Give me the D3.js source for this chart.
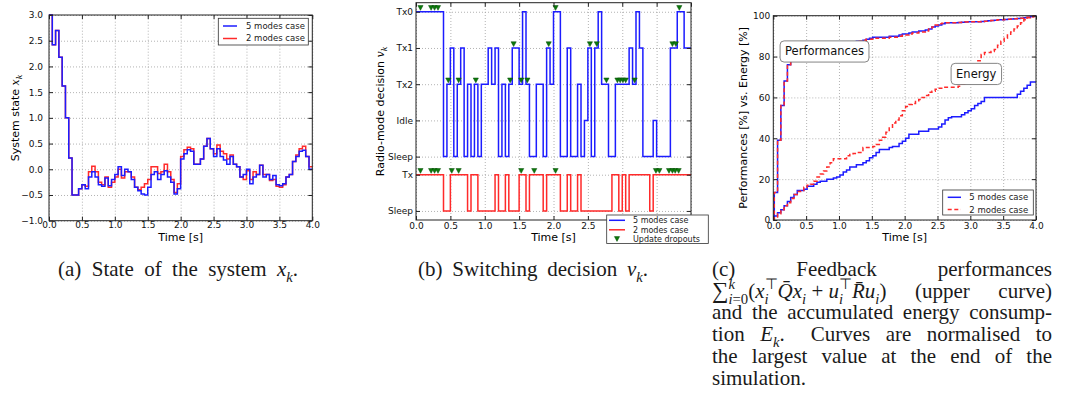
<!DOCTYPE html>
<html>
<head>
<meta charset="utf-8">
<script src="https://cdn.jsdelivr.net/npm/d3@7"></script>
<style>
  body { margin: 0; background: #fff; }
  svg text { font-family: "DejaVu Sans", sans-serif; white-space: pre; }
  .cap text { font-family: "Liberation Serif", serif; fill: #1a1a1a; }
</style>
</head>
<body>
<svg id="fig" width="1078" height="414"></svg>
<script>
// ---- data ----
var dt = 0.05;
var timeTicks = [0, 0.5, 1, 1.5, 2, 2.5, 3, 3.5, 4];

// (a) state of the system, one value per 0.05 s
var stateTicks = [-1, -0.5, 0, 0.5, 1, 1.5, 2, 2.5, 3];
var stateFive = [3.0, 2.42, 2.7, 2.18, 1.62, 1.0, 0.22, -0.5, -0.5, -0.38,
  -0.3, -0.38, -0.15, -0.05, -0.15, -0.3, -0.33, -0.17, -0.32, -0.2,
  -0.1, 0.05, -0.12, 0.0, -0.05, -0.2, -0.35, -0.42, -0.48, -0.5,
  -0.35, -0.1, -0.05, -0.2, -0.1, -0.03, -0.15, -0.25, -0.48, -0.38,
  0.2, 0.3, 0.38, 0.35, 0.1, 0.1, 0.2, 0.45, 0.6, 0.4,
  0.25, 0.4, 0.25, 0.18, 0.1, 0.25, 0.1, 0.05, -0.15, -0.1,
  0.0, -0.28, -0.15, -0.1, 0.08, -0.15, -0.1, -0.2, -0.12, -0.3,
  -0.32, -0.28, -0.15, -0.1, 0.15, 0.25, 0.35, 0.37, 0.25, 0.0];
var stateTwo = [3.0, 2.42, 2.7, 2.18, 1.62, 1.0, 0.22, -0.5, -0.5, -0.38,
  -0.3, -0.33, -0.05, 0.06, -0.05, -0.25, -0.3, -0.15, -0.35, -0.25,
  -0.15, 0.0, -0.17, -0.05, -0.05, -0.15, -0.35, -0.4, -0.35, -0.28,
  -0.2, 0.05, 0.05, -0.08, -0.05, 0.1, -0.05, -0.2, -0.45, -0.28,
  0.25, 0.38, 0.43, 0.4, 0.1, 0.1, 0.2, 0.45, 0.6, 0.4,
  0.3, 0.47, 0.35, 0.3, 0.2, 0.28, 0.1, 0.05, -0.15, -0.2,
  -0.03, -0.2, -0.05, -0.1, 0.08, -0.1, -0.1, -0.22, -0.2, -0.33,
  -0.35, -0.3, -0.15, -0.1, 0.15, 0.28, 0.4, 0.45, 0.25, 0.05];

// (b) radio-mode decision
var fiveOrder = ["Sleep", "Idle", "Tx2", "Tx1", "Tx0"];
var twoOrder = ["Sleep", "Tx"];
var modeFive = ["Tx0","Tx0","Tx0","Tx0","Tx0","Tx0","Tx0","Tx0","Sleep","Tx2",
  "Tx1","Sleep","Tx2","Tx1","Sleep","Tx2","Sleep","Tx2","Sleep","Tx2",
  "Tx2","Tx1","Tx2","Tx1","Sleep","Tx2","Sleep","Tx2","Tx1","Tx1",
  "Tx2","Tx0","Tx2","Sleep","Sleep","Tx2","Tx2","Sleep","Tx1","Tx2",
  "Tx0","Tx0","Sleep","Sleep","Tx1","Sleep","Sleep","Tx2","Sleep","Idle",
  "Tx1","Sleep","Tx1","Tx0","Tx2","Tx2","Sleep","Sleep","Tx2","Tx2",
  "Tx2","Tx2","Tx1","Tx2","Tx0","Tx1","Sleep","Sleep","Sleep","Idle",
  "Sleep","Sleep","Sleep","Sleep","Tx1","Tx1","Tx0","Tx0","Tx1","Tx1"];
var modeTwo = ["Tx","Tx","Tx","Tx","Tx","Tx","Tx","Tx","Sleep","Sleep",
  "Tx","Tx","Tx","Tx","Tx","Sleep","Tx","Tx","Sleep","Sleep",
  "Sleep","Sleep","Sleep","Tx","Sleep","Sleep","Tx","Sleep","Sleep","Sleep",
  "Tx","Tx","Sleep","Tx","Tx","Tx","Tx","Sleep","Tx","Tx",
  "Tx","Tx","Sleep","Sleep","Tx","Sleep","Sleep","Tx","Sleep","Sleep",
  "Sleep","Sleep","Sleep","Sleep","Sleep","Sleep","Sleep","Tx","Tx","Sleep",
  "Tx","Sleep","Tx","Tx","Tx","Tx","Tx","Tx","Sleep","Tx",
  "Tx","Tx","Tx","Tx","Tx","Tx","Tx","Tx","Tx","Tx"];
var modeTickNames = ["Sleep", "Tx", "Sleep", "Idle", "Tx2", "Tx1", "Tx0"];
var dropFive = [0.065, 0.22, 0.27, 0.32, 0.47, 0.62, 0.87, 1.37, 1.42, 1.53, 1.62, 1.93,
  2.03, 2.53, 2.63, 2.77, 2.93, 2.97, 3.01, 3.05, 3.18, 3.73, 3.78, 3.83];
var dropTwo = [0.065, 0.22, 0.27, 0.32, 0.52, 0.62, 1.53, 1.72, 2.03, 3.49, 3.54,
  3.68, 3.73, 3.77, 3.82];

// (c) normalised performance and energy [%]
var pctTicks = [0, 20, 40, 60, 80, 100];
var cT0 = 0.015;
var perfFive = [13.5, 39, 56, 68, 76, 80, 84, 85, 85, 85.5,
  85.5, 85.5, 86, 86, 86, 86.5, 86.5, 86.5, 86.5, 87,
  87, 87, 87, 87, 87, 87.5, 87.5, 88, 88.5, 89,
  89.5, 89.5, 89.5, 89.5, 89.5, 90, 90, 90, 90.5, 91,
  91, 91.5, 92, 92, 92.5, 92.5, 93, 93.5, 94.5, 95,
  95.5, 96, 96.5, 96.5, 96.5, 96.5, 96.7, 96.8, 96.9, 97,
  97, 97, 97.1, 97.2, 97.3, 97.5, 97.6, 97.8, 98, 98,
  98.2, 98.3, 98.4, 98.5, 98.6, 98.8, 99, 99.3, 99.6, 100];
var perfTwo = [13.5, 39, 56, 68, 76, 80, 84, 85, 85, 85.5,
  85.5, 85.5, 86, 86, 86, 86.5, 86.5, 86.5, 86.5, 87,
  87, 87, 87, 87, 87, 87.5, 87.5, 88, 88.5, 88.5,
  89, 89, 89, 89, 89, 89.5, 89.5, 89.5, 90, 90.5,
  90.5, 91, 91.5, 91.5, 92, 92, 92.5, 93.5, 94.5, 95.5,
  96, 96.3, 96.5, 96.5, 96.5, 96.5, 96.7, 96.8, 96.9, 97,
  97, 97, 97.1, 97.2, 97.3, 97.5, 97.6, 97.8, 98, 98,
  98.2, 98.3, 98.4, 98.5, 98.6, 98.8, 99, 99.3, 99.6, 100];
var energyFive = [2, 3.5, 5, 7, 9, 11, 12.5, 14.5, 14.5, 15,
  16.5, 16.5, 17.5, 18.5, 19, 19, 20, 20, 20.5, 21,
  22, 23.5, 24.5, 26, 26, 27, 27, 28, 29, 30.5,
  31.5, 33, 34.5, 34.5, 34.5, 35.5, 36, 36, 37.5, 38.5,
  40, 42, 42, 42, 43.5, 43.5, 43.5, 44.5, 44.5, 44.5,
  45.5, 47, 49, 50, 50.5, 50.5, 50.5, 51.5, 52.5, 53.5,
  54.5, 56, 57, 58, 60, 60, 60, 60, 60, 60,
  60, 60, 60, 60, 61.5, 63, 64.5, 66, 67.5, 67.5];
var energyTwo = [1.5, 3, 5, 7, 8.5, 10.5, 12.5, 14, 14.5, 16,
  17, 17.5, 19, 21, 22.5, 24, 26, 28, 30, 30,
  30, 30, 31.5, 32, 32.5, 33, 33, 35.5, 35.5, 35.5,
  36, 37, 39, 40.5, 43, 45, 47.5, 49, 51, 53.5,
  55.5, 56.5, 57, 58, 59, 60, 61, 62.5, 63, 64,
  64.5, 65, 65, 65, 65, 65, 65.5, 66.5, 68, 70.5,
  73, 76, 78, 81, 82, 82, 82.5, 83.5, 85.5, 87.5,
  89, 90.5, 92, 93.5, 95, 96.5, 98, 99, 99.5, 100];

// ---- drawing ----
var svg = d3.select("#fig");
var BLUE = "#1c1cff", RED = "#ff2a2a", GREEN = "#0b7a0b";
var tri = "M-2.6,-2.4L2.6,-2.4L0,2.4Z";

function makePanel(box, yDomain) {
  return {
    box: box,
    x: d3.scaleLinear().domain([0, 4]).range([box.x0, box.x1]),
    y: d3.scaleLinear().domain(yDomain).range([box.y1, box.y0]),
    g: svg.append("g")
  };
}

function grid(p, yTicks) {
  var b = p.box;
  var gx = p.g.append("g").attr("transform", "translate(0," + b.y1 + ")")
    .call(d3.axisBottom(p.x).tickValues(timeTicks).tickSize(-(b.y1 - b.y0)).tickFormat(""));
  var gy = p.g.append("g").attr("transform", "translate(" + b.x0 + ",0)")
    .call(d3.axisLeft(p.y).tickValues(yTicks).tickSize(-(b.x1 - b.x0)).tickFormat(""));
  [gx, gy].forEach(function(s) {
    s.select(".domain").remove();
    s.selectAll("line").attr("stroke", "#a0a0a0").attr("stroke-width", 0.8).attr("stroke-dasharray", "1,2");
  });
}

function axes(p, yTicks, yFmt, padX, padY) {
  var b = p.box, g = p.g.append("g");
  var list = [
    [d3.axisBottom(p.x).tickValues(timeTicks).tickFormat(d3.format(".1f")).tickPadding(padX), "translate(0," + b.y1 + ")"],
    [d3.axisTop(p.x).tickValues(timeTicks).tickFormat(""), "translate(0," + b.y0 + ")"],
    [d3.axisLeft(p.y).tickValues(yTicks).tickFormat(yFmt).tickPadding(padY), "translate(" + b.x0 + ",0)"],
    [d3.axisRight(p.y).tickValues(yTicks).tickFormat(""), "translate(" + b.x1 + ",0)"]
  ];
  list.forEach(function(a) {
    var s = g.append("g").attr("transform", a[1]).call(a[0].tickSize(-4));
    s.select(".domain").remove();
    s.selectAll("line").attr("stroke", "#222");
    s.selectAll("text").attr("font-size", 9).attr("font-family", "DejaVu Sans").attr("fill", "#111");
  });
  g.append("rect").attr("x", b.x0).attr("y", b.y0)
    .attr("width", b.x1 - b.x0).attr("height", b.y1 - b.y0)
    .attr("fill", "none").attr("stroke", "#222").attr("stroke-width", 1);
}

function stepLine(p, pts, color, dash) {
  var line = d3.line().x(function(d) { return p.x(d[0]); }).y(function(d) { return p.y(d[1]); })
    .curve(d3.curveStepAfter);
  p.g.append("path").attr("d", line(pts)).attr("fill", "none")
    .attr("stroke", color).attr("stroke-width", 1.5).attr("stroke-dasharray", dash || null);
}

function gridPoints(vals) {
  var pts = vals.map(function(v, k) { return [k * dt, v]; });
  pts.push([4, vals[vals.length - 1]]);
  return pts;
}

function cumPoints(vals) {
  var pts = [[0, 0]].concat(vals.map(function(v, k) { return [cT0 + k * dt, v]; }));
  pts.push([4, vals[vals.length - 1]]);
  return pts;
}

function xLabel(p) {
  p.g.append("text").attr("x", (p.box.x0 + p.box.x1) / 2).attr("y", 241)
    .attr("text-anchor", "middle").attr("font-size", 11).text("Time [s]");
}

function yLabel(p, x, parts) {
  var cy = (p.box.y0 + p.box.y1) / 2;
  var t = p.g.append("text").attr("transform", "translate(" + x + "," + cy + ") rotate(-90)")
    .attr("text-anchor", "middle").attr("font-size", 11);
  parts.forEach(function(s) {
    var ts = t.append("tspan").text(s.t);
    if (s.it) ts.attr("font-style", "italic").attr("font-family", "DejaVu Serif");
    if (s.sub) ts.attr("font-size", 8).attr("dy", 2.5);
  });
}

function legend(g, box, items, fs) {
  g.append("rect").attr("x", box.x).attr("y", box.y).attr("width", box.w).attr("height", box.h)
    .attr("fill", "#fff").attr("stroke", "#333").attr("stroke-width", 0.8);
  items.forEach(function(it, i) {
    var cy = box.rows[i];
    if (it.marker) {
      g.append("path").attr("d", tri).attr("transform", "translate(" + ((box.l0 + box.l1) / 2) + "," + cy + ")")
        .attr("fill", GREEN).attr("stroke", "#064d06").attr("stroke-width", 0.5);
    } else {
      g.append("line").attr("x1", box.l0).attr("x2", box.l1).attr("y1", cy).attr("y2", cy)
        .attr("stroke", it.color).attr("stroke-width", 1.5).attr("stroke-dasharray", it.dash || null);
    }
    g.append("text").attr("x", box.tx).attr("y", cy).attr("dy", "0.35em")
      .attr("font-size", fs).attr("fill", "#222").text(it.label);
  });
}

// (a)
var pa = makePanel({x0: 49, x1: 312.3, y0: 15, y1: 220.7}, [-1, 3]);
grid(pa, stateTicks);
stepLine(pa, gridPoints(stateTwo), RED);
stepLine(pa, gridPoints(stateFive), BLUE);
axes(pa, stateTicks, d3.format(".1f"), 1, 6);
xLabel(pa);
yLabel(pa, 19, [{t: "System state "}, {t: "x", it: 1}, {t: "k", it: 1, sub: 1}]);
legend(pa.g, {x: 218.3, y: 18.3, w: 90, h: 26.7, rows: [26, 38.5], l0: 223, l1: 237, tx: 246},
  [{label: "5 modes case", color: BLUE}, {label: "2 modes case", color: RED}], 8.5);

// (b)
var fiveLevel = function(m) { return 1.5 + fiveOrder.indexOf(m); };
var twoLevel = function(m) { return twoOrder.indexOf(m); };
var modeTicks = twoOrder.map(twoLevel).concat(fiveOrder.map(fiveLevel));
var pb = makePanel({x0: 416, x1: 691, y0: 2.7, y1: 220}, [-0.25, 5.75]);
grid(pb, modeTicks);
stepLine(pb, gridPoints(modeTwo.map(twoLevel)), RED);
stepLine(pb, gridPoints(modeFive.map(fiveLevel)), BLUE);
function drops(times, modes, levelOf) {
  pb.g.append("g").selectAll("path").data(times).enter().append("path")
    .attr("d", tri)
    .attr("transform", function(t) {
      var m = modes[Math.min(79, Math.floor(t / dt + 1e-9))];
      return "translate(" + pb.x(t) + "," + (pb.y(levelOf(m)) - 3.8) + ")";
    })
    .attr("fill", GREEN).attr("stroke", "#064d06").attr("stroke-width", 0.5);
}
drops(dropFive, modeFive, fiveLevel);
drops(dropTwo, modeTwo, twoLevel);
axes(pb, modeTicks, function(d, i) { return modeTickNames[i]; }, 2.5, 3);
xLabel(pb);
yLabel(pb, 384, [{t: "Radio-mode decision "}, {t: "v", it: 1}, {t: "k", it: 1, sub: 1}]);
legend(pb.g, {x: 606.7, y: 215, w: 101.6, h: 28.5, rows: [220.3, 229.8, 239], l0: 609, l1: 625, tx: 633},
  [{label: "5 modes case", color: BLUE}, {label: "2 modes case", color: RED},
   {label: "Update dropouts", marker: 1}], 8);

// (c)
var pc = makePanel({x0: 773.3, x1: 1036, y0: 15.7, y1: 220}, [0, 100]);
grid(pc, pctTicks);
stepLine(pc, cumPoints(perfFive), BLUE);
stepLine(pc, cumPoints(energyFive), BLUE);
stepLine(pc, cumPoints(perfTwo), RED, "4,2.6");
stepLine(pc, cumPoints(energyTwo), RED, "4,2.6");
axes(pc, pctTicks, d3.format("d"), 3, 3);
xLabel(pc);
yLabel(pc, 747, [{t: "Performances [%] vs. Energy [%]"}]);
function note(p, t, v, label) {
  var g = p.g.append("g");
  var txt = g.append("text").attr("x", p.x(t)).attr("y", p.y(v)).attr("text-anchor", "middle")
    .attr("dy", "0.35em").attr("font-size", 11.5).attr("fill", "#111").text(label);
  var bb = txt.node().getBBox();
  g.insert("rect", "text").attr("x", bb.x - 5).attr("y", bb.y - 3.6)
    .attr("width", bb.width + 10).attr("height", bb.height + 7.2).attr("rx", 4)
    .attr("fill", "#fff").attr("stroke", "#777").attr("stroke-width", 0.9);
}
note(pc, 0.78, 82.5, "Performances");
note(pc, 3.09, 71.5, "Energy");
legend(pc.g, {x: 942.7, y: 190, w: 90.6, h: 25, rows: [197.3, 209.6], l0: 947.7, l1: 961, tx: 969.3},
  [{label: "5 modes case", color: BLUE}, {label: "2 modes case", color: RED, dash: "4,2.6"}], 8.5);

// ---- captions ----
var cap = svg.append("g").attr("class", "cap");
var capSize = 21;
var lineY = [276, 297.7, 319.4, 341.1, 362.8, 384.5];

function typeset(g, pieces, size) {
  var cx = 0, start = 0;
  pieces.forEach(function(p) {
    var small = p.sub || p.sup;
    var px = p.stack ? start : cx;
    var t = g.append("text").attr("x", px)
      .attr("y", p.sub ? size * 0.28 : p.sup ? -size * 0.42 : 0)
      .attr("font-size", small ? size * 0.7 : size * (p.scale || 1));
    (Array.isArray(p.t) ? p.t : [[p.t, p.it]]).forEach(function(s) {
      t.append("tspan").attr("font-style", s[1] ? "italic" : null).text(s[0]);
    });
    var w = t.node().getComputedTextLength();
    if (p.stack) cx = Math.max(cx, px + w);
    else { start = px; cx = px + w; }
  });
  return cx;
}

function setLine(x0, x1, y, words, justify) {
  var gs = words.map(function(w) {
    var g = cap.append("g");
    return {g: g, w: typeset(g, typeof w === "string" ? [{t: w}] : w, capSize)};
  });
  var total = d3.sum(gs, function(d) { return d.w; });
  var space = capSize * 0.25;
  var gap = justify ? Math.max(space * 0.8, (x1 - x0 - total) / (gs.length - 1)) : space;
  var cx = x0;
  gs.forEach(function(d) {
    d.g.attr("transform", "translate(" + cx + "," + y + ")");
    cx += d.w + gap;
  });
}

setLine(58, 298, lineY[0], ["(a)", "State", "of", "the", "system",
  [{t: "x", it: 1}, {t: "k", it: 1, sub: 1}, {t: "."}]], true);
setLine(418, 648, lineY[0], ["(b)", "Switching", "decision",
  [{t: "v", it: 1}, {t: "k", it: 1, sub: 1}, {t: "."}]], true);

var mathSum = [
  {t: "\u2211", scale: 1.1}, {t: "k", it: 1, sup: 1}, {t: [["i", 1], ["=0", 0]], sub: 1, stack: 1},
  {t: "("}, {t: "x", it: 1}, {t: "\u22a4", sup: 1}, {t: "i", it: 1, sub: 1, stack: 1},
  {t: "Q\u0304", it: 1}, {t: "x", it: 1}, {t: "i", it: 1, sub: 1}, {t: " + "},
  {t: "u", it: 1}, {t: "\u22a4", sup: 1}, {t: "i", it: 1, sub: 1, stack: 1},
  {t: "R\u0304", it: 1}, {t: "u", it: 1}, {t: "i", it: 1, sub: 1}, {t: ")"}
];
setLine(712, 1052, lineY[0], ["(c)", "Feedback", "performances"], true);
setLine(712, 1052, lineY[1], [mathSum, "(upper", "curve)"], true);
setLine(712, 1052, lineY[2], ["and", "the", "accumulated", "energy", "consump-"], true);
setLine(712, 1052, lineY[3], ["tion", [{t: "E", it: 1}, {t: "k", it: 1, sub: 1}, {t: ".  "}],
  "Curves", "are", "normalised", "to"], true);
setLine(712, 1052, lineY[4], ["the", "largest", "value", "at", "the", "end", "of", "the"], true);
setLine(712, 1052, lineY[5], ["simulation."], false);
</script>
</body>
</html>
